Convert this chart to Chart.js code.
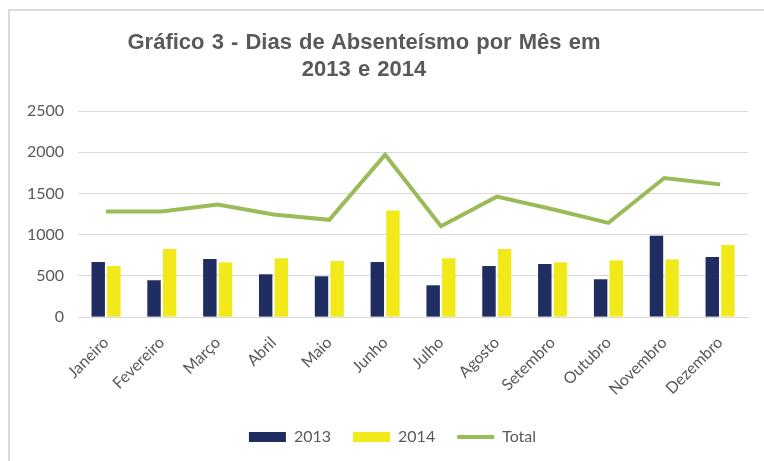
<!DOCTYPE html>
<html>
<head>
<meta charset="utf-8">
<script src="https://cdn.jsdelivr.net/npm/chart.js@4/dist/chart.umd.min.js"></script>
<style>
  html, body { margin: 0; padding: 0; background: #fff; }
  #wrap { position: relative; width: 764px; height: 461px; overflow: hidden; }
  #frame {
    position: absolute; left: 8px; top: 9px; width: 900px; height: 600px;
    border-left: 2px solid #d9d9d9; border-top: 2px solid #d9d9d9;
  }
  #title {
    position: absolute; left: 0; top: 28px; width: 728px; text-align: center;
    font-family: "Liberation Sans", Arial, sans-serif; font-weight: bold;
    font-size: 22px; line-height: 27px; color: #595959; word-spacing: 1px;
  }
  canvas { position: absolute; left: 0; top: 0; }
</style>
</head>
<body>
<div id="wrap">
  <div id="frame"></div>
  <canvas id="absChart" width="764" height="461"></canvas>
  <div id="title">Gráfico 3 - Dias de Absenteísmo por Mês em<br>2013 e 2014</div>
</div>
<script>
const months = ['Janeiro', 'Fevereiro', 'Março', 'Abril', 'Maio', 'Junho',
                'Julho', 'Agosto', 'Setembro', 'Outubro', 'Novembro', 'Dezembro'];
const days2013 = [668, 447, 705, 519, 495, 668, 386, 620, 644, 459, 986, 729];
const days2014 = [620, 825, 664, 713, 680, 1292, 713, 825, 664, 688, 700, 874];
const totals = [1280, 1280, 1365, 1244, 1180, 1970, 1103, 1461, 1308, 1143, 1687, 1610];
const yTicks = [0, 500, 1000, 1500, 2000, 2500];

const GRAY = '#595959';
const FONT = 'Lato, "Open Sans", sans-serif';

// nudge the legend a bit to the right, like in the original
const legendShift = {
    id: 'legendShift',
    afterLayout(chart) {
        const lg = chart.legend;
        if (!lg) return;
        lg.left += 12;
        lg.right += 12;
        lg.adjustHitBoxes();
    }
};

const ctx = document.getElementById('absChart');
new Chart(ctx, {
    type: 'bar',
    data: {
        labels: months,
        datasets: [
            { label: '2013', data: days2013, backgroundColor: '#1F2D60', borderWidth: 0,
              categoryPercentage: 0.56, barPercentage: 0.86 },
            { label: '2014', data: days2014, backgroundColor: '#F2E91A', borderWidth: 0,
              categoryPercentage: 0.56, barPercentage: 0.86 },
            { label: 'Total', type: 'line', data: totals, borderColor: '#9BBB59',
              backgroundColor: '#9BBB59', borderWidth: 4, pointRadius: 0, tension: 0,
              fill: false }
        ]
    },
    options: {
        responsive: false,
        animation: false,
        layout: { padding: { top: 111, left: 13, right: 16, bottom: 6 } },
        scales: {
            x: {
                grid: { display: false },
                border: { color: '#d9d9d9' },
                ticks: { color: GRAY, font: { family: FONT, size: 16 },
                         minRotation: 45, maxRotation: 45, padding: 8 }
            },
            y: {
                min: 0, max: 2500,
                afterBuildTicks: axis => { axis.ticks = yTicks.map(v => ({ value: v })); },
                grid: { color: '#d9d9d9', drawTicks: false },
                border: { display: false },
                ticks: { color: GRAY, font: { family: FONT, size: 16 }, padding: 14,
                         callback: v => String(v) }
            }
        },
        plugins: {
            title: { display: false },
            tooltip: { enabled: false },
            legend: {
                position: 'bottom',
                labels: {
                    color: GRAY,
                    font: { family: FONT, size: 16 },
                    usePointStyle: true,
                    pointStyleWidth: 37,
                    boxHeight: 10,
                    padding: 22,
                    generateLabels: chart => {
                        const items = Chart.defaults.plugins.legend.labels.generateLabels(chart);
                        items.forEach(it => {
                            it.pointStyle = it.datasetIndex === 2 ? 'line' : 'rect';
                        });
                        return items;
                    }
                }
            }
        }
    },
    plugins: [legendShift]
});
</script>
</body>
</html>
